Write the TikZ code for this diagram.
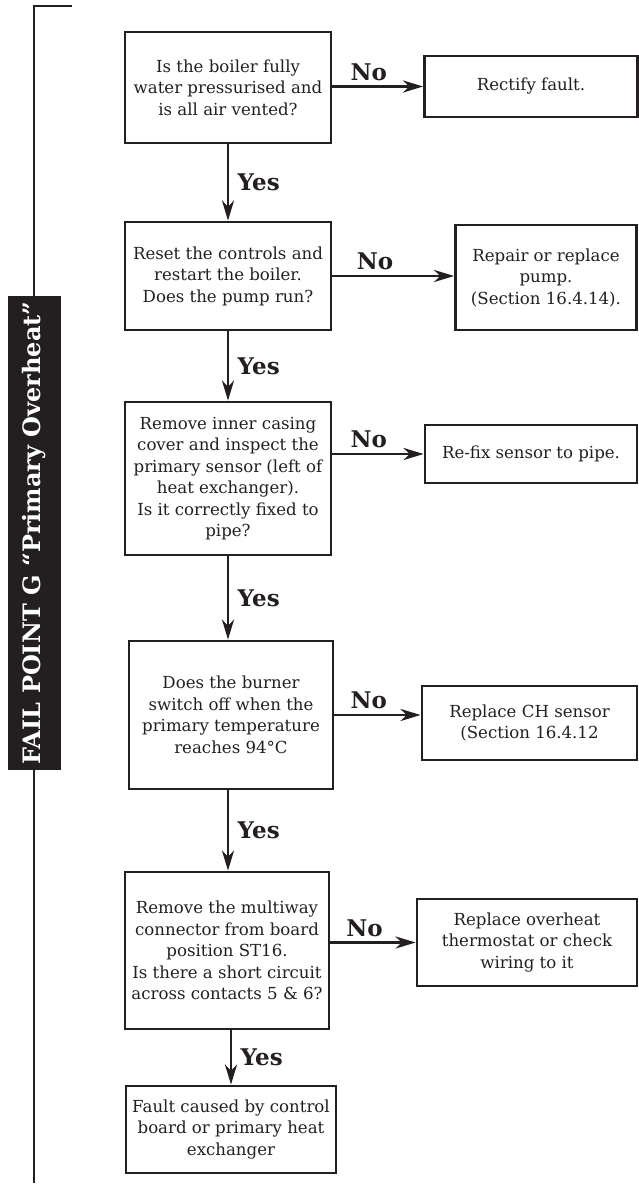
\documentclass[tikz,border=0pt]{standalone}
\usepackage{fontspec}
\setmainfont{DejaVu Serif}
\usetikzlibrary{arrows.meta}
\definecolor{ink}{HTML}{231F20}
\tikzset{
  x=1pt, y=-1pt,
  box/.style={draw=ink, line width=2.8pt, align=center, inner sep=3pt,
    font=\fontsize{16.6}{21.5}\selectfont\color{ink}},
  arr/.style={draw=ink, line width=2.8pt, -{Stealth[length=20pt,width=12pt,inset=6pt]}},
  lbl/.style={font=\bfseries\fontsize{23}{26}\selectfont\color{ink}},
}
\begin{document}
\begin{tikzpicture}
\useasboundingbox (0,0) rectangle (639,1189);
% bracket
\coordinate (t1) at (72,6);
\coordinate (t0) at (34,6);
\coordinate (bt) at (34,1183);
\draw[ink, line width=2.5pt] (t1) -- (t0) -- (bt);
\node[fill=ink, minimum width=53pt, minimum height=474pt, inner sep=0pt] (ban) at (34.5,533) {};
\node[rotate=90, text=white, font=\bfseries\fontsize{24}{28}\selectfont] (bant) at (ban.center) {FAIL POINT G “Primary Overheat”};

% boxes
\node[box, minimum width=206pt, minimum height=111pt] (b1) at (228,87.5) {Is the boiler fully\\water pressurised and\\is all air vented?};
\node[box, minimum width=213pt, minimum height=61pt] (r1) at (531,86.5) {Rectify fault.};
\node[box, minimum width=206pt, minimum height=108pt] (b2) at (228,276) {Reset the controls and\\restart the boiler.\\Does the pump run?};
\node[box, minimum width=181pt, minimum height=105pt] (r2) at (546,277.5) {Repair or replace\\pump.\\(Section 16.4.14).};
\node[box, minimum width=206pt, minimum height=153pt] (b3) at (228,478.5) {Remove inner casing\\cover and inspect the\\primary sensor (left of\\heat exchanger).\\Is it correctly fixed to\\pipe?};
\node[box, minimum width=212pt, minimum height=58pt] (r3) at (531,454) {Re-fix sensor to pipe.};
\node[box, minimum width=204pt, minimum height=148pt] (b4) at (231,715) {Does the burner\\switch off when the\\primary temperature\\reaches 94°C};
\node[box, minimum width=215pt, minimum height=74pt] (r4) at (529.5,723) {Replace CH sensor\\(Section 16.4.12};
\node[box, minimum width=204pt, minimum height=157pt] (b5) at (227,950.5) {Remove the multiway\\connector from board\\position ST16.\\Is there a short circuit\\across contacts 5 \& 6?};
\node[box, minimum width=220pt, minimum height=87pt] (r5) at (527,942.5) {Replace overheat\\thermostat or check\\wiring to it};
\node[box, minimum width=210pt, minimum height=87pt] (b6) at (231,1129.5) {Fault caused by control\\board or primary heat\\exchanger};

% No arrows
\draw[arr] (b1.east |- r1.west) -- node[lbl, pos=0.4, above=1pt] {No} (r1.west);
\draw[arr] (b2.east) -- node[lbl, pos=0.35, above=1pt] {No} (b2.east -| r2.west);
\draw[arr] (b3.east |- r3.west) -- node[lbl, pos=0.4, above=1pt] {No} (r3.west);
\draw[arr] (b4.east) -- node[lbl, pos=0.4, above=1pt] {No} (b4.east -| r4.west);
\draw[arr] (b5.east |- r5.west) -- node[lbl, pos=0.4, above=1pt] {No} (r5.west);

% Yes arrows
\draw[arr] (b1.south) -- node[lbl, right=5pt] {Yes} (b1.south |- b2.north);
\draw[arr] (b2.south) -- node[lbl, right=5pt] {Yes} (b2.south |- b3.north);
\draw[arr] (b3.south) -- node[lbl, right=5pt] {Yes} (b3.south |- b4.north);
\draw[arr] (b4.south -| b3.south) -- node[lbl, right=5pt] {Yes} (b3.south |- b5.north);
\draw[arr] (b5.south -| b6.north) -- node[lbl, right=5pt] {Yes} (b6.north);
\end{tikzpicture}
\end{document}
